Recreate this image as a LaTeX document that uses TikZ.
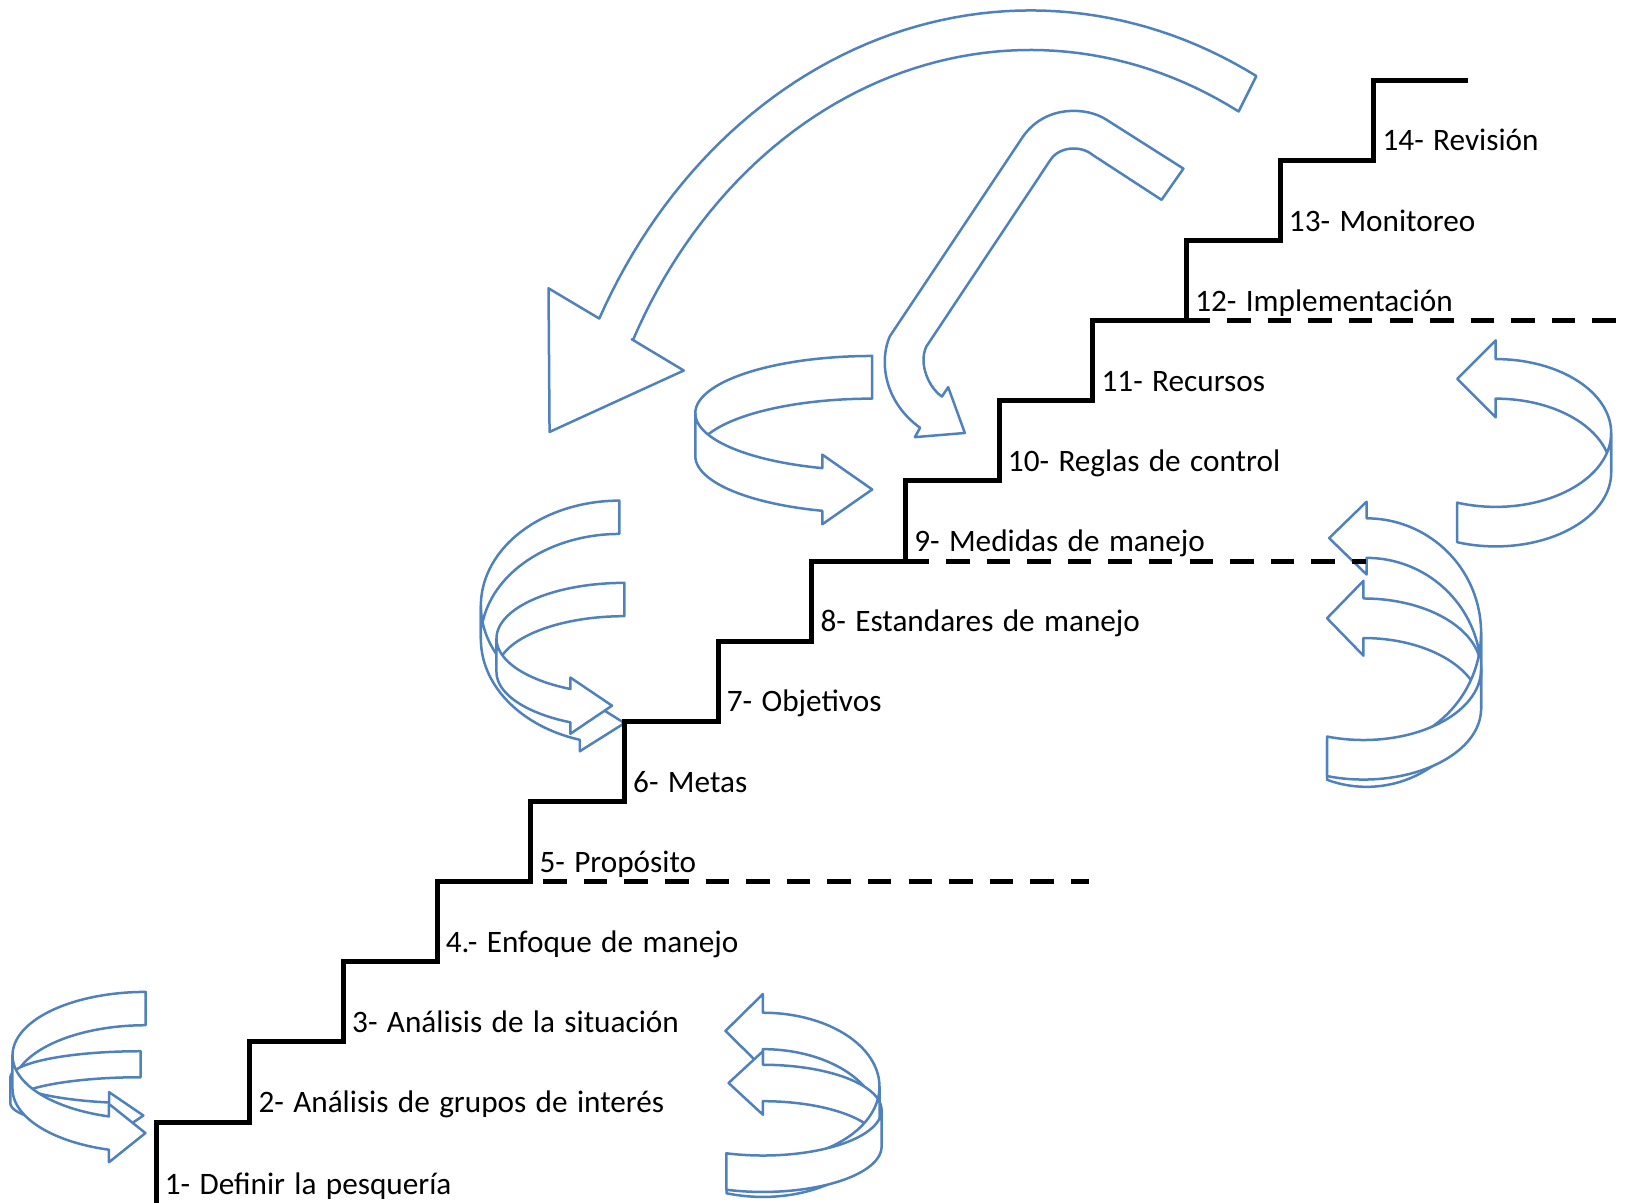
\documentclass[tikz,border=0pt]{standalone}
\usepackage{fontspec}
\setmainfont{Carlito}
\definecolor{ob}{HTML}{4F81BD}
\newcommand\lblfont{\fontsize{15}{18}\selectfont\spaceskip 0.3em\relax}
\tikzset{
  arr/.style={draw=ob, line width=1.2pt, fill=white, line join=round},
  stair/.style={line width=2.4pt, line join=miter},
  dsh/.style={line width=2.4pt, dash pattern=on 11.25pt off 8.25pt},
  lbl/.style={anchor=base west, inner sep=0pt, font=\lblfont},
}
% back face ending in a tail (arrow with head on the front)
\newcommand\ribBT[5]{%
  \begin{scope}[shift={(#1,#2)}]
    \draw[arr] plot[domain=-90:-180,samples=40] ({#3*cos(\x)},{#4*sin(\x)})
      -- plot[domain=-180:-90,samples=40] ({#3*cos(\x)},{#4*sin(\x)+#5}) -- cycle;
  \end{scope}}
% front face ending in a head pointing right
\newcommand\ribFH[8]{%
  \begin{scope}[shift={(#1,#2)}]
    \pgfmathsetmacro\rxa{#3*cos(#6)}%
    \pgfmathsetmacro\rya{#4*sin(#6)}%
    \draw[arr] plot[domain=180:#6,samples=40] ({#3*cos(\x)},{#4*sin(\x)})
      -- (\rxa,\rya-#7) -- (\rxa+#8,\rya+#5/2) -- (\rxa,\rya+#5+#7)
      -- plot[domain=#6:180,samples=40] ({#3*cos(\x)},{#4*sin(\x)+#5}) -- cycle;
  \end{scope}}
% mirrored: back face ending in a head pointing left
\newcommand\ribBH[7]{%
  \begin{scope}[shift={(#1,#2)},xscale=-1]
    \draw[arr] plot[domain=-90:-180,samples=40] ({#3*cos(\x)},{#4*sin(\x)})
      -- plot[domain=-180:-90,samples=40] ({#3*cos(\x)},{#4*sin(\x)+#5})
      -- (0,-#4+#5+#6) -- (#7,-#4+#5/2) -- (0,-#4-#6) -- cycle;
  \end{scope}}
% mirrored: front face ending in a tail
\newcommand\ribFT[6]{%
  \begin{scope}[shift={(#1,#2)},xscale=-1]
    \draw[arr] plot[domain=180:#6,samples=40] ({#3*cos(\x)},{#4*sin(\x)})
      -- plot[domain=#6:180,samples=40] ({#3*cos(\x)},{#4*sin(\x)+#5}) -- cycle;
  \end{scope}}
\begin{document}
\begin{tikzpicture}[x=0.5pt,y=-0.5pt]
\useasboundingbox (0,0) rectangle (1568,1155);

% big curved arrow (elliptical band)
\draw[arr] plot[domain=-62.3:-152.5,samples=60] ({990+467*cos(\x)},{560+550*sin(\x)})
  -- (527,277) -- (528,415) -- (657,356) -- (607,326)
  -- plot[domain=-152.8:-62.2,samples=60] ({990+429*cos(\x)},{560+512*sin(\x)}) -- cycle;

% hook arrow
\draw[arr] (1137,162) -- (1063,115) .. controls (1045,103) and (1005,100) .. (983,131)
  -- (855,323) .. controls (845,345) and (848,385) .. (884,411)
  -- (879,420) -- (927,416) -- (911,372) -- (905,381)
  .. controls (893,373) and (882,350) .. (890,333)
  -- (1009,154) .. controls (1017,141) and (1038,139) .. (1050,149)
  -- (1116,192) -- cycle;

% bottom-left group
\ribBT{140}{1014}{128}{61}{32}
\ribBT{135}{1035}{125}{25}{25}
\ribFH{135}{1035}{125}{25}{25}{104}{10}{33}
\ribFH{140}{1014}{128}{61}{32}{106}{12}{35}

% mid-left group
\ribBT{595}{582}{133}{101}{32}
\ribBT{600}{613.5}{123}{53.5}{32}
\ribFH{595}{582}{133}{101}{32}{106.6}{11}{43}
\ribFH{600}{613.5}{123}{53.5}{32}{115}{11}{40}

% middle single
\ribBT{838}{397}{170}{55}{41}
\ribFH{838}{397}{170}{55}{41}{106.4}{13}{48}

% bottom-right group
\ribBH{733}{1044}{112}{71}{35}{18}{36}
\ribBH{733}{1066.6}{114}{43.6}{35}{13}{33}
\ribFT{733}{1044}{112}{71}{35}{71.8}
\ribFT{733}{1066.6}{114}{43.6}{35}{72}

% right upper single
\ribBH{1437}{416}{111}{71}{38}{18}{37}
\ribFT{1437}{416}{111}{71}{38}{70.5}

% right middle group
\ribBH{1313}{608}{110}{110}{38}{16}{36}
\ribBH{1310}{643}{113}{68}{38}{17}{35}
\ribFT{1313}{608}{110}{110}{38}{69.8}
\ribFT{1310}{643}{113}{68}{38}{72}

% staircase
\draw[stair] (150,1165) -- (150,1078) -- (240,1078) -- (240,1001) -- (330,1001) -- (330,924)
  -- (420,924) -- (420,847) -- (510,847) -- (510,770) -- (600,770) -- (600,693)
  -- (690,693) -- (690,616) -- (780,616) -- (780,539) -- (870,539) -- (870,462)
  -- (960,462) -- (960,385) -- (1050,385) -- (1050,308) -- (1140,308) -- (1140,231)
  -- (1230,231) -- (1230,154) -- (1320,154) -- (1320,77) -- (1410,77);

% dashed phase lines
\draw[dsh, dash phase=13.5pt] (510,847) -- (1046,847);
\draw[dsh] (870,539) -- (1312,539);
\draw[dsh] (1140,308) -- (1568,308);

% labels
\node[lbl] (s1)  at (158,1148) {1- Definir la pesquería};
\node[lbl] (s2)  at (248,1069) {2- Análisis de grupos de interés};
\node[lbl] (s3)  at (338,992)  {3- Análisis de la situación};
\node[lbl] (s4)  at (428,915)  {4.- Enfoque de manejo};
\node[lbl] (s5)  at (518,838)  {5- Propósito};
\node[lbl] (s6)  at (608,761)  {6- Metas};
\node[lbl] (s7)  at (698,684)  {7- Objetivos};
\node[lbl] (s8)  at (788,607)  {8- Estandares de manejo};
\node[lbl] (s9)  at (878,530)  {9- Medidas de manejo};
\node[lbl] (s10) at (968,453)  {10- Reglas de control};
\node[lbl] (s11) at (1058,376) {11- Recursos};
\node[lbl] (s12) at (1148,299) {12- Implementación};
\node[lbl] (s13) at (1238,222) {13- Monitoreo};
\node[lbl] (s14) at (1328,145) {14- Revisión};
\end{tikzpicture}
\end{document}
